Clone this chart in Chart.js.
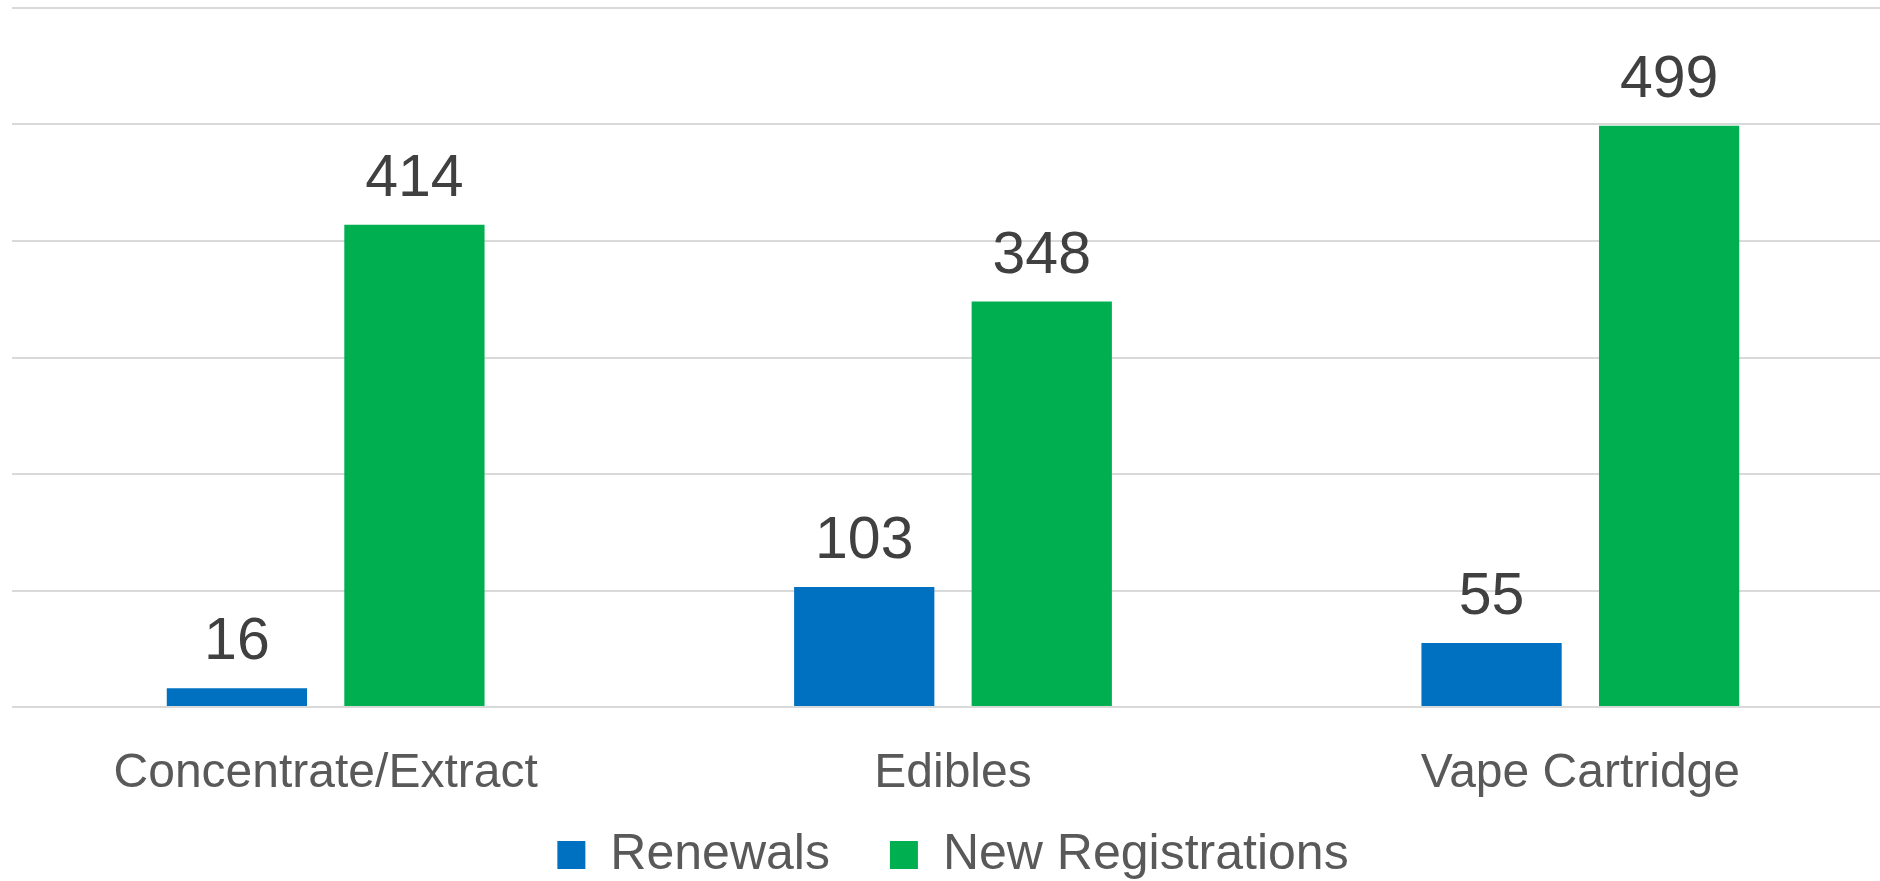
<!DOCTYPE html>
<html>
<head>
<meta charset="utf-8">
<script src="https://cdn.jsdelivr.net/npm/chart.js@4.4.1/dist/chart.umd.min.js"></script>
<style>
  html, body { margin: 0; padding: 0; background: #fff; overflow: hidden; }
  #wrap { width: 1880px; height: 881px; overflow: hidden; }
  canvas { display: block; }
</style>
</head>
<body>
<div id="wrap"><canvas id="chart" width="1894" height="881"></canvas></div>
<script>
// categories and values
const categories = ["Concentrate/Extract", "Edibles", "Vape Cartridge"];
const renewals = [16, 103, 55];
const newRegistrations = [414, 348, 499];
const seriesNames = ["Renewals", "New Registrations"];

const FONT = "'Liberation Sans', Arial, sans-serif";

// value labels above each bar
const barLabels = {
  id: "barLabels",
  afterDatasetsDraw(chart) {
    const ctx = chart.ctx;
    ctx.save();
    ctx.font = "59px " + FONT;
    ctx.fillStyle = "#404040";
    ctx.textAlign = "center";
    ctx.textBaseline = "alphabetic";
    chart.data.datasets.forEach((ds, i) => {
      chart.getDatasetMeta(i).data.forEach((bar, j) => {
        ctx.fillText(String(ds.data[j]), bar.x, bar.y - 29);
      });
    });
    ctx.restore();
  }
};

new Chart(document.getElementById("chart"), {
  type: "bar",
  data: {
    labels: categories,
    datasets: [
      { label: seriesNames[0], data: renewals, backgroundColor: "#0070C0" },
      { label: seriesNames[1], data: newRegistrations, backgroundColor: "#00B050" }
    ]
  },
  options: {
    responsive: false,
    animation: false,
    layout: { padding: { left: 12, right: 0, top: 8, bottom: 0 } },
    datasets: { bar: { categoryPercentage: 0.566, barPercentage: 0.79 } },
    plugins: {
      tooltip: { enabled: false },
      legend: {
        position: "bottom",
        maxHeight: 111,
        labels: {
          color: "#595959",
          font: { family: FONT, size: 50 },
          boxWidth: 28,
          boxHeight: 28,
          padding: 60
        }
      }
    },
    scales: {
      x: {
        grid: { display: false },
        border: { display: false },
        ticks: {
          color: "#595959",
          font: { family: FONT, size: 48 },
          padding: 30,
          maxRotation: 0
        },
        afterFit(scale) {
          scale.height = 63;
          // let the labels run below the (short) axis box
          scale._computeLabelArea = () => undefined;
        }
      },
      y: {
        min: 0,
        max: 600,
        ticks: { display: false, stepSize: 100 },
        border: { display: false },
        grid: { color: "#d9d9d9", lineWidth: 2, drawTicks: false }
      }
    }
  },
  plugins: [barLabels]
});
</script>
</body>
</html>
